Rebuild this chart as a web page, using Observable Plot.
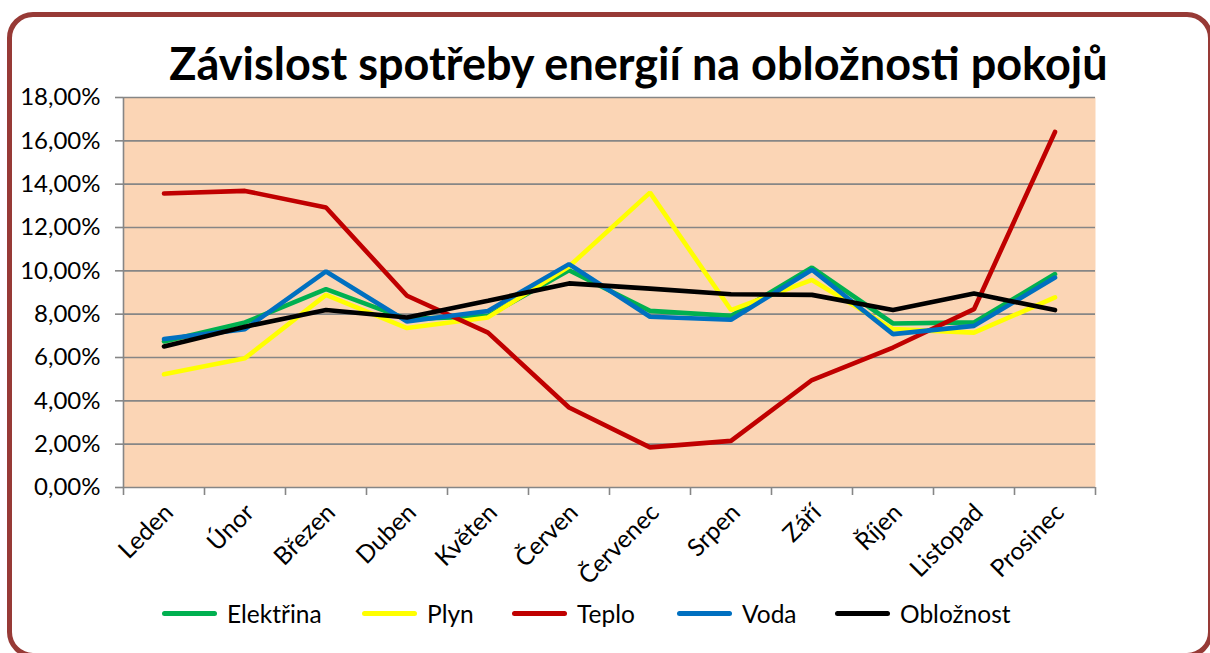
<!DOCTYPE html>
<html>
<head>
<meta charset="utf-8">
<script src="https://cdn.jsdelivr.net/npm/d3@7"></script>
<script src="https://cdn.jsdelivr.net/npm/@observablehq/plot@0.6"></script>
<style>
  html, body { margin: 0; padding: 0; background: #ffffff; }
  #wrap { position: relative; width: 1210px; height: 653px; overflow: hidden; font-family: Lato, "Open Sans", sans-serif; }
  #frame { position: absolute; left: 7px; top: 12px; width: 1196px; height: 636px; border: 5px solid #973A36; border-radius: 26px; }
  #title { position: absolute; left: 0; width: 1277px; top: 36px; text-align: center; font-weight: 700; font-size: 45px; color: #000; white-space: nowrap; }
  #chart { position: absolute; left: 0; top: 0; }
  #legend { position: absolute; top: 599px; left: 0; width: 1210px; height: 30px; }
  .item { position: absolute; display: flex; align-items: center; font-size: 24.5px; color: #000; }
  .sw { width: 55px; height: 5px; border-radius: 3px; margin-right: 10px; }
</style>
</head>
<body>
<div id="wrap">
  <div id="frame"></div>
  <div id="chart"></div>
  <div id="title">Závislost spotřeby energií na obložnosti pokojů</div>
  <div id="legend"></div>
</div>
<script>
const months = ["Leden","Únor","Březen","Duben","Květen","Červen","Červenec","Srpen","Září","Říjen","Listopad","Prosinec"];
const seriesNames = ["Elektřina","Plyn","Teplo","Voda","Obložnost"];
const seriesColors = ["#00B050","#FFFF00","#C00000","#0070C0","#000000"];
const elektrina = [6.74,7.62,9.16,7.77,7.92,10.03,8.15,7.92,10.15,7.57,7.62,9.85];
const plyn      = [5.23,5.97,8.89,7.36,7.85,10.20,13.61,8.19,9.58,7.31,7.15,8.77];
const teplo     = [13.57,13.69,12.92,8.85,7.15,3.69,1.85,2.15,4.96,6.46,8.23,16.41];
const voda      = [6.85,7.31,9.97,7.66,8.15,10.31,7.88,7.74,10.05,7.08,7.46,9.69];
const oblozenost= [6.51,7.42,8.19,7.85,8.62,9.42,9.18,8.92,8.89,8.19,8.95,8.19];
const yTicks = [0,2,4,6,8,10,12,14,16,18];
const legendStarts = [162,362,512,677,835];

const seriesValues = [elektrina, plyn, teplo, voda, oblozenost];
const rows = [];
seriesNames.forEach((s, si) => {
  seriesValues[si].forEach((v, i) => rows.push({series: s, idx: i + 0.5, month: months[i], value: v}));
});

const fmt = d => d.toFixed(2).replace(".", ",") + "%";
const grid = "#868686";

const marks = [
  Plot.frame({fill: "#FBD5B5", stroke: null}),
  Plot.gridY(yTicks, {stroke: grid, strokeOpacity: 1, strokeWidth: 1.6}),
  Plot.axisY(yTicks, {tickFormat: fmt, tickSize: 8, tickPadding: 15, stroke: grid, strokeWidth: 1.6, fontSize: 24, label: null, color: "#000"}),
  Plot.ruleX([0], {stroke: grid, strokeWidth: 1.6}),
  Plot.axisX(d3.range(13), {tickFormat: () => "", tickSize: 8, stroke: grid, strokeWidth: 1.6, label: null}),
  Plot.axisX(months.map((m, i) => i + 0.5), {tickFormat: d => months[d - 0.5], tickSize: 0, tickPadding: 21, tickRotate: -45, fontSize: 24.5, dx: 5, label: null})
];
seriesNames.forEach((s, si) => {
  marks.push(Plot.line(rows.filter(r => r.series === s), {x: "idx", y: "value", stroke: seriesColors[si], strokeWidth: 4.6, strokeLinecap: "round", strokeLinejoin: "miter"}));
});

const chart = Plot.plot({
  width: 1210,
  height: 653,
  marginLeft: 123,
  marginRight: 115,
  marginTop: 97,
  marginBottom: 166,
  style: {background: "transparent", fontFamily: "Lato, 'Open Sans', sans-serif", fontSize: "24px", color: "#000", overflow: "visible"},
  x: {type: "linear", domain: [0, 12], axis: null},
  y: {type: "linear", domain: [0, 18], axis: null},
  marks
});
document.getElementById("chart").appendChild(chart);

const legend = document.getElementById("legend");
seriesNames.forEach((s, si) => {
  const it = document.createElement("div");
  it.className = "item";
  it.style.left = legendStarts[si] + "px";
  const sw = document.createElement("div");
  sw.className = "sw";
  sw.style.background = seriesColors[si];
  const t = document.createElement("span");
  t.textContent = s;
  it.appendChild(sw); it.appendChild(t);
  legend.appendChild(it);
});
</script>
</body>
</html>
